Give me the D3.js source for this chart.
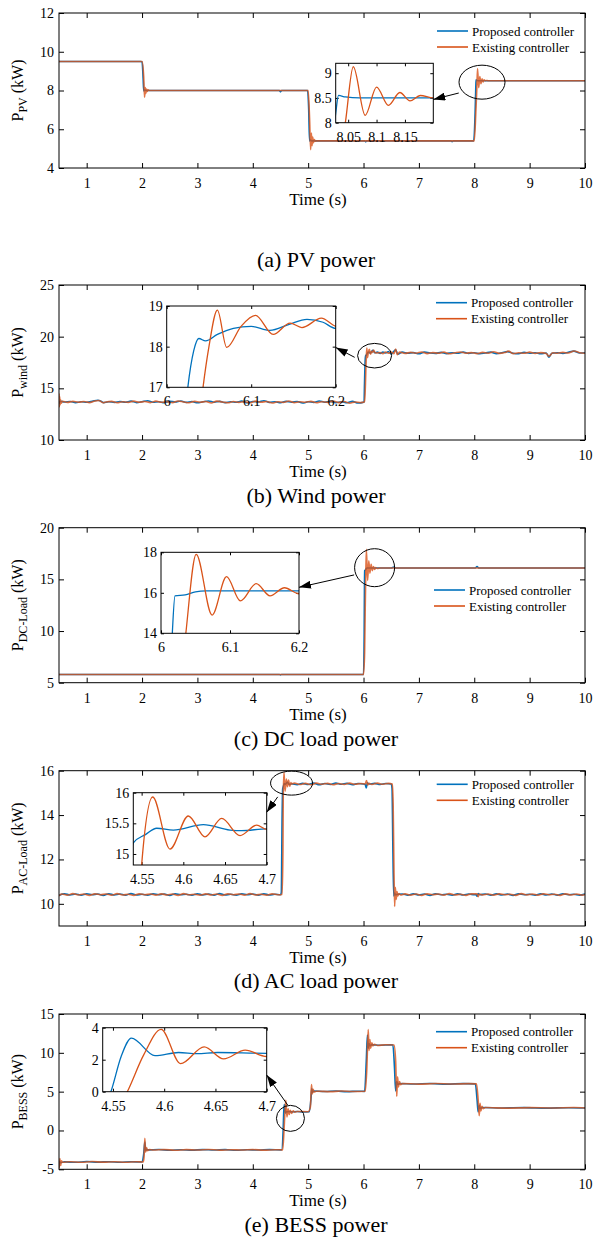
<!DOCTYPE html>
<html>
<head>
<meta charset="utf-8">
<script src="https://cdn.jsdelivr.net/npm/d3@7"></script>
<style>
body { margin: 0; background: #fff; }
svg text { font-family: "Liberation Serif", "Times New Roman", serif; fill: #000; }
</style>
</head>
<body>
<svg id="chart" width="597" height="1238"></svg>
<script>
// shared ticks
var timeTicks = [1, 2, 3, 4, 5, 6, 7, 8, 9, 10];
var seriesNames = ["Proposed controller", "Existing controller"];

//(a) PV power
var pvTicks = [4, 6, 8, 10, 12];
var pvInsetXTicks = [8.05, 8.1, 8.15];
var pvInsetYTicks = [8, 8.5, 9];
var pvProposed = [
  [0.5, 9.5], [1.98, 9.5], [2.0, 9.48], [2.02, 8.6], [2.03, 7.98], [2.05, 8.02], [2.08, 8.0],
  [4.48, 8.0], [4.5, 7.93], [4.52, 8.0], [4.99, 8.0], [5.01, 7.0], [5.025, 5.4], [5.04, 5.44],
  [5.07, 5.4], [6.02, 5.4], [6.04, 5.35], [6.06, 5.4], [7.58, 5.4], [7.6, 5.36], [7.62, 5.4],
  [7.99, 5.4], [8.015, 6.8], [8.028, 8.19], [8.033, 8.55], [8.045, 8.52], [8.07, 8.5], [10, 8.5]
];
var pvExisting = [
  [0.5, 9.5], [2.0, 9.5], [2.03, 8.7], [2.045, 7.65], [2.058, 8.15], [2.07, 7.85], [2.082, 8.08],
  [2.095, 7.95], [2.11, 8.03], [2.13, 8.0], [5.0, 8.0], [5.025, 6.6], [5.045, 4.95], [5.058, 5.8],
  [5.07, 5.15], [5.082, 5.6], [5.095, 5.3], [5.11, 5.47], [5.13, 5.38], [5.16, 5.4], [8.0, 5.4],
  [8.03, 7.0], [8.045, 8.0], [8.059, 9.13], [8.08, 8.15], [8.1, 8.72], [8.121, 8.35], [8.141, 8.61],
  [8.159, 8.44], [8.177, 8.55], [8.2, 8.5], [8.22, 8.52], [8.25, 8.5], [10, 8.5]
];

//(b) Wind power
var windTicks = [10, 15, 20, 25];
var windInsetXTicks = [6, 6.1, 6.2];
var windInsetYTicks = [17, 18, 19];
var windProposed = [
  [0.5, 13.5], [0.52, 13.75], [0.6, 13.68], [0.7, 13.72], [0.8, 13.62], [0.9, 13.7], [1.0, 13.66],
  [1.1, 13.74], [1.2, 13.85], [1.25, 13.78], [1.3, 13.62], [1.4, 13.7], [1.5, 13.64], [1.6, 13.72],
  [1.7, 13.66], [1.8, 13.76], [1.9, 13.62], [2.0, 13.7], [2.1, 13.8], [2.2, 13.66], [2.3, 13.7],
  [2.4, 13.6], [2.5, 13.74], [2.6, 13.68], [2.7, 13.78], [2.8, 13.64], [2.9, 13.72], [3.0, 13.6],
  [3.1, 13.7], [3.2, 13.78], [3.3, 13.66], [3.4, 13.74], [3.5, 13.62], [3.6, 13.7], [3.7, 13.66],
  [3.8, 13.76], [3.9, 13.6], [4.0, 13.72], [4.1, 13.68], [4.2, 13.8], [4.3, 13.64], [4.4, 13.7],
  [4.5, 13.6], [4.6, 13.74], [4.7, 13.66], [4.8, 13.72], [4.9, 13.58], [5.0, 13.7], [5.1, 13.64],
  [5.2, 13.78], [5.3, 13.66], [5.4, 13.72], [5.5, 13.62], [5.6, 13.7], [5.7, 13.6], [5.8, 13.74],
  [5.9, 13.58], [6.0, 13.66], [6.01, 13.7], [6.018, 15.5], [6.025, 17.0], [6.032, 17.9],
  [6.038, 18.2], [6.046, 18.14], [6.06, 18.3], [6.079, 18.45], [6.1, 18.5], [6.122, 18.4],
  [6.145, 18.55], [6.166, 18.67], [6.185, 18.6], [6.2, 18.45], [6.25, 18.5],
  [6.3, 18.38], [6.35, 18.5], [6.4, 18.42], [6.45, 18.55], [6.5, 18.32], [6.55, 18.6], [6.58, 18.72],
  [6.62, 18.3], [6.7, 18.5], [6.8, 18.4], [6.9, 18.46], [7.0, 18.35], [7.1, 18.5], [7.2, 18.42],
  [7.3, 18.38], [7.4, 18.48], [7.5, 18.36], [7.6, 18.45], [7.7, 18.4], [7.8, 18.5], [7.9, 18.38],
  [8.0, 18.45], [8.1, 18.35], [8.2, 18.42], [8.3, 18.5], [8.4, 18.36], [8.5, 18.44], [8.6, 18.55],
  [8.7, 18.4], [8.8, 18.35], [8.9, 18.48], [9.0, 18.4], [9.1, 18.45], [9.2, 18.35], [9.3, 18.42],
  [9.35, 18.02], [9.4, 18.4], [9.5, 18.45], [9.6, 18.38], [9.7, 18.5], [9.8, 18.6], [9.9, 18.42],
  [10.0, 18.45]
];
var windExisting = [
  [0.5, 14.5], [0.505, 13.2], [0.512, 14.2], [0.52, 13.4], [0.53, 13.9], [0.54, 13.55], [0.56, 13.75],
  [0.65, 13.64], [0.75, 13.74], [0.85, 13.66], [0.95, 13.72], [1.05, 13.62], [1.15, 13.78],
  [1.22, 13.82], [1.3, 13.6], [1.35, 13.68], [1.45, 13.74], [1.55, 13.6], [1.65, 13.7], [1.75, 13.64],
  [1.85, 13.76], [1.95, 13.66], [2.05, 13.72], [2.15, 13.62], [2.25, 13.76], [2.35, 13.66],
  [2.45, 13.7], [2.55, 13.62], [2.65, 13.78], [2.75, 13.68], [2.85, 13.6], [2.95, 13.74],
  [3.05, 13.66], [3.15, 13.72], [3.25, 13.58], [3.35, 13.76], [3.45, 13.68], [3.55, 13.6],
  [3.65, 13.72], [3.75, 13.64], [3.85, 13.7], [3.95, 13.6], [4.05, 13.76], [4.15, 13.66],
  [4.25, 13.72], [4.35, 13.58], [4.45, 13.7], [4.55, 13.64], [4.65, 13.78], [4.75, 13.62],
  [4.85, 13.7], [4.95, 13.66], [5.05, 13.74], [5.15, 13.6], [5.25, 13.7], [5.35, 13.64],
  [5.45, 13.76], [5.55, 13.62], [5.65, 13.72], [5.75, 13.56], [5.85, 13.68], [5.95, 13.62],
  [6.02, 13.7], [6.035, 15.5], [6.043, 17.0], [6.05, 18.0], [6.06, 18.9], [6.071, 17.98],
  [6.088, 18.5], [6.105, 18.77], [6.126, 18.3], [6.146, 18.58], [6.16, 18.47], [6.183, 18.7],
  [6.2, 18.5], [6.23, 18.42],
  [6.3, 18.46], [6.35, 18.36], [6.4, 18.52], [6.45, 18.4], [6.5, 18.5], [6.55, 18.35], [6.58, 18.8],
  [6.61, 18.25], [6.65, 18.5], [6.75, 18.38], [6.85, 18.48], [6.95, 18.4], [7.05, 18.52],
  [7.15, 18.36], [7.25, 18.46], [7.35, 18.4], [7.45, 18.5], [7.55, 18.34], [7.65, 18.44],
  [7.75, 18.52], [7.85, 18.4], [7.95, 18.46], [8.05, 18.36], [8.15, 18.48], [8.25, 18.4],
  [8.35, 18.54], [8.45, 18.38], [8.55, 18.46], [8.62, 18.6], [8.7, 18.36], [8.8, 18.44], [8.9, 18.4],
  [9.0, 18.5], [9.1, 18.38], [9.2, 18.46], [9.3, 18.36], [9.35, 18.1], [9.42, 18.45], [9.5, 18.4],
  [9.6, 18.48], [9.7, 18.42], [9.8, 18.62], [9.9, 18.45], [10.0, 18.4]
];

//(c) DC load power
var dcTicks = [5, 10, 15, 20];
var dcInsetXTicks = [6, 6.1, 6.2];
var dcInsetYTicks = [14, 16, 18];
var dcProposed = [
  [0.5, 5.8], [4.48, 5.8], [4.5, 5.75], [4.52, 5.8], [6.0, 5.8], [6.012, 10], [6.0164, 14],
  [6.0203, 15.85], [6.035, 15.9], [6.05, 16.05], [6.065, 16.1], [6.5, 16.1], [6.55, 16.2],
  [6.58, 16.1], [8.02, 16.1], [8.05, 16.25], [8.08, 16.1], [10, 16.1]
];
var dcExisting = [
  [0.5, 5.8], [6.0, 5.8], [6.02, 8], [6.03, 12], [6.036, 14], [6.051, 17.9], [6.074, 14.9],
  [6.095, 16.8], [6.115, 15.6], [6.138, 16.45], [6.158, 15.85], [6.179, 16.25], [6.2, 15.95],
  [6.22, 16.15], [6.25, 16.05], [6.3, 16.1], [10, 16.1]
];

//(d) AC load power
var acTicks = [10, 12, 14, 16];
var acInsetXTicks = [4.55, 4.6, 4.65, 4.7];
var acInsetYTicks = [15, 15.5, 16];
var acProposed = [
  [0.5, 10.38], [0.6, 10.45], [0.7, 10.4], [0.8, 10.44], [0.9, 10.39], [1.0, 10.45], [1.1, 10.41],
  [1.2, 10.44], [1.3, 10.38], [1.4, 10.45], [1.5, 10.4], [1.6, 10.44], [1.7, 10.39], [1.8, 10.46],
  [1.9, 10.4], [2.0, 10.43], [2.1, 10.39], [2.2, 10.45], [2.3, 10.41], [2.4, 10.44], [2.5, 10.38],
  [2.6, 10.45], [2.7, 10.41], [2.8, 10.43], [2.9, 10.39], [3.0, 10.45], [3.1, 10.4], [3.2, 10.44],
  [3.3, 10.39], [3.4, 10.46], [3.5, 10.4], [3.6, 10.43], [3.7, 10.39], [3.8, 10.45], [3.9, 10.41],
  [4.0, 10.44], [4.1, 10.39], [4.2, 10.45], [4.3, 10.4], [4.4, 10.43], [4.5, 10.41],
  [4.515, 10.5], [4.53, 14.0], [4.54, 15.18], [4.555, 15.32], [4.568, 15.42], [4.588, 15.39],
  [4.624, 15.48], [4.656, 15.39], [4.67, 15.38], [4.7, 15.41], [4.8, 15.37], [4.9, 15.43],
  [5.0, 15.38], [5.1, 15.44], [5.2, 15.37], [5.3, 15.42], [5.4, 15.38], [5.5, 15.44], [5.6, 15.39],
  [5.7, 15.43], [5.8, 15.37], [5.9, 15.42], [6.0, 15.4], [6.03, 15.38], [6.05, 15.22], [6.07, 15.45],
  [6.1, 15.4], [6.2, 15.43], [6.3, 15.38], [6.4, 15.42], [6.5, 15.4], [6.515, 15.2], [6.53, 12.5],
  [6.545, 10.35], [6.56, 10.48], [6.58, 10.4], [6.62, 10.43],
  [6.7, 10.44], [6.8, 10.39], [6.9, 10.45], [7.0, 10.4], [7.1, 10.44], [7.2, 10.38], [7.3, 10.45],
  [7.4, 10.41], [7.5, 10.43], [7.6, 10.39], [7.7, 10.45], [7.8, 10.4], [7.9, 10.44], [8.0, 10.41],
  [8.03, 10.42], [8.05, 10.34], [8.07, 10.46], [8.1, 10.41], [8.2, 10.44], [8.3, 10.39], [8.4, 10.45],
  [8.5, 10.4], [8.6, 10.44], [8.7, 10.38], [8.8, 10.45], [8.9, 10.41], [9.0, 10.43], [9.1, 10.39],
  [9.2, 10.45], [9.3, 10.4], [9.4, 10.44], [9.5, 10.39], [9.6, 10.45], [9.7, 10.41], [9.8, 10.43],
  [9.9, 10.39], [10.0, 10.44]
];
var acExisting = [
  [0.5, 10.36], [0.55, 10.44], [0.65, 10.39], [0.75, 10.46], [0.85, 10.4], [0.95, 10.44],
  [1.05, 10.38], [1.15, 10.45], [1.25, 10.41], [1.35, 10.44], [1.45, 10.39], [1.55, 10.46],
  [1.65, 10.4], [1.75, 10.43], [1.85, 10.38], [1.95, 10.45], [2.05, 10.41], [2.15, 10.44],
  [2.25, 10.39], [2.35, 10.45], [2.45, 10.4], [2.55, 10.44], [2.65, 10.38], [2.75, 10.46],
  [2.85, 10.41], [2.95, 10.43], [3.05, 10.39], [3.15, 10.45], [3.25, 10.4], [3.35, 10.44],
  [3.45, 10.38], [3.55, 10.45], [3.65, 10.41], [3.75, 10.44], [3.85, 10.39], [3.95, 10.46],
  [4.05, 10.4], [4.15, 10.43], [4.25, 10.39], [4.35, 10.45], [4.45, 10.41], [4.53, 10.42],
  [4.545, 12.5], [4.55, 14.82], [4.5633, 15.93], [4.584, 15.08], [4.606, 15.62], [4.626, 15.28],
  [4.646, 15.58], [4.668, 15.3], [4.688, 15.47], [4.7, 15.4], [4.75, 15.44], [4.85, 15.38],
  [4.95, 15.43], [5.05, 15.37], [5.15, 15.44], [5.25, 15.39], [5.35, 15.43], [5.45, 15.37],
  [5.55, 15.42], [5.65, 15.38], [5.75, 15.44], [5.85, 15.39], [5.95, 15.42], [6.03, 15.4],
  [6.055, 15.56], [6.075, 15.35], [6.1, 15.43], [6.15, 15.38], [6.25, 15.44], [6.35, 15.39],
  [6.45, 15.43], [6.52, 15.4], [6.535, 14.5], [6.55, 11.5], [6.562, 9.88], [6.575, 10.75],
  [6.59, 10.2], [6.605, 10.55], [6.62, 10.35], [6.64, 10.46], [6.67, 10.4],
  [6.75, 10.45], [6.85, 10.39], [6.95, 10.44], [7.05, 10.38], [7.15, 10.45], [7.25, 10.41],
  [7.35, 10.44], [7.45, 10.39], [7.55, 10.46], [7.65, 10.4], [7.75, 10.43], [7.85, 10.38],
  [7.95, 10.45], [8.05, 10.45], [8.07, 10.32], [8.09, 10.44], [8.15, 10.4], [8.25, 10.44],
  [8.35, 10.39], [8.45, 10.45], [8.55, 10.41], [8.65, 10.43], [8.75, 10.38], [8.85, 10.46],
  [8.95, 10.4], [9.05, 10.44], [9.15, 10.39], [9.25, 10.45], [9.35, 10.41], [9.45, 10.43],
  [9.55, 10.38], [9.65, 10.45], [9.75, 10.4], [9.85, 10.44], [9.95, 10.39], [10.0, 10.42]
];

//(e) BESS power
var bessTicks = [-5, 0, 5, 10, 15];
var bessInsetXTicks = [4.55, 4.6, 4.65, 4.7];
var bessInsetYTicks = [0, 2, 4];
var bessProposed = [
  [0.5, -4.8], [0.51, -4.0], [0.53, -4.15], [0.6, -4.05], [0.8, -4.1], [1.0, -4.0], [1.2, -4.08],
  [1.4, -4.02], [1.6, -4.1], [1.8, -4.03], [2.0, -4.06], [2.03, -3.0], [2.05, -1.5], [2.065, -2.6],
  [2.08, -2.4], [2.1, -2.5], [2.3, -2.45], [2.5, -2.55], [2.7, -2.48], [2.9, -2.53], [3.1, -2.46],
  [3.3, -2.52], [3.5, -2.47], [3.7, -2.54], [3.9, -2.48], [4.1, -2.52], [4.3, -2.46], [4.52, -2.5],
  [4.548, 0], [4.558, 2.2], [4.568, 3.35], [4.591, 2.25], [4.614, 2.45], [4.632, 2.38],
  [4.652, 2.45], [4.7, 2.4], [4.8, 2.44], [4.9, 2.38], [5.02, 2.42], [5.05, 4.0], [5.065, 5.4],
  [5.08, 4.9], [5.1, 5.08], [5.3, 5.02], [5.5, 5.08], [5.7, 5.0], [5.9, 5.06], [6.02, 5.04],
  [6.05, 9], [6.07, 12.3], [6.085, 10.6], [6.1, 11.2], [6.12, 10.9], [6.15, 11.05], [6.3, 10.98],
  [6.5, 11.02], [6.53, 11.0], [6.56, 8.0], [6.58, 5.1], [6.6, 6.3], [6.62, 5.9], [6.65, 6.05],
  [6.9, 5.98], [7.2, 6.04], [7.5, 5.97], [7.8, 6.03], [8.02, 6.0], [8.05, 4.0], [8.07, 2.4],
  [8.09, 3.2], [8.11, 2.8], [8.14, 2.95], [8.5, 2.9], [8.9, 2.94], [9.3, 2.88], [9.7, 2.93], [10, 2.9]
];
var bessExisting = [
  [0.5, -4.9], [0.515, -3.6], [0.53, -4.5], [0.545, -3.9], [0.56, -4.1], [0.7, -4.02], [0.9, -4.1],
  [1.1, -4.0], [1.3, -4.08], [1.5, -4.03], [1.7, -4.1], [1.9, -4.02], [2.02, -4.06], [2.035, -3.5],
  [2.05, -1.0], [2.065, -2.8], [2.08, -2.2], [2.1, -2.6], [2.13, -2.45], [2.2, -2.52], [2.4, -2.46],
  [2.6, -2.54], [2.8, -2.47], [3.0, -2.52], [3.2, -2.45], [3.4, -2.53], [3.6, -2.48], [3.8, -2.52],
  [4.0, -2.46], [4.2, -2.53], [4.4, -2.48], [4.54, -2.5], [4.564, 0], [4.58, 2.3], [4.597, 3.9],
  [4.616, 1.75], [4.639, 2.8], [4.658, 2.05], [4.679, 2.6], [4.7, 2.2], [4.73, 2.52], [4.76, 2.35],
  [4.8, 2.45], [5.0, 2.42], [5.04, 3.0], [5.06, 5.9], [5.075, 4.7], [5.09, 5.3], [5.11, 4.95],
  [5.15, 5.06], [5.4, 5.0], [5.6, 5.08], [5.8, 5.02], [6.03, 5.05], [6.06, 8], [6.085, 13.0],
  [6.1, 10.3], [6.115, 11.7], [6.13, 10.6], [6.15, 11.3], [6.17, 10.9], [6.2, 11.1], [6.25, 10.95],
  [6.4, 11.04], [6.55, 11.0], [6.58, 9.0], [6.6, 4.4], [6.615, 6.9], [6.63, 5.6], [6.65, 6.3],
  [6.67, 5.9], [6.7, 6.05], [7.0, 5.97], [7.3, 6.04], [7.6, 5.98], [7.9, 6.03], [8.04, 6.0],
  [8.07, 4.0], [8.09, 1.9], [8.105, 3.5], [8.12, 2.5], [8.14, 3.1], [8.16, 2.8], [8.2, 2.95],
  [8.6, 2.88], [9.0, 2.94], [9.4, 2.9], [9.8, 2.95], [10, 2.9]
];

var blue = "#0072BD";
var orange = "#D95319";
var serif = "Liberation Serif, Times New Roman, serif";
var plotLeft = 59, plotRight = 585;

var panels = [
  {id: "a", top: 13, bottom: 168, yDomain: [4, 12], yTicks: pvTicks, sub: "PV",
   caption: "(a) PV power", captionGap: 99, proposed: pvProposed, existing: pvExisting,
   legend: [437, 31],
   inset: {x0: 335.7, x1: 433.3, y0: 63.3, y1: 122.7, xDomain: [8.028, 8.2], yDomain: [8, 9.2],
           xTicks: pvInsetXTicks, yTicks: pvInsetYTicks},
   ellipse: {cx: 8.14, cy: 8.43, rx: 23, ry: 17}, arrow: {from: [7.72, 7.87], to: [8.2, 8.47]}},
  {id: "b", top: 285, bottom: 440, yDomain: [10, 25], yTicks: windTicks, sub: "wind",
   caption: "(b) Wind power", captionGap: 63, proposed: windProposed, existing: windExisting,
   legend: [436, 302.7],
   inset: {x0: 166.7, x1: 335.7, y0: 306, y1: 387.3, xDomain: [6, 6.2], yDomain: [17, 19],
           xTicks: windInsetXTicks, yTicks: windInsetYTicks},
   ellipse: {cx: 6.2, cy: 18.16, rx: 17, ry: 12.3}, arrow: {from: [5.84, 18.0], to: [6.2, 17.98]}},
  {id: "c", top: 527.7, bottom: 682.7, yDomain: [5, 20], yTicks: dcTicks, sub: "DC-Load",
   caption: "(c) DC load power", captionGap: 63, proposed: dcProposed, existing: dcExisting,
   legend: [434, 590],
   inset: {x0: 161, x1: 299, y0: 552.3, y1: 633.3, xDomain: [6, 6.2], yDomain: [14, 18],
           xTicks: dcInsetXTicks, yTicks: dcInsetYTicks},
   ellipse: {cx: 6.2, cy: 16.13, rx: 20, ry: 19}, arrow: {from: [5.83, 15.43], to: [6.2, 16.27]}},
  {id: "d", top: 770.7, bottom: 926, yDomain: [9, 16], yTicks: acTicks, sub: "AC-Load",
   caption: "(d) AC load power", captionGap: 62, proposed: acProposed, existing: acExisting,
   legend: [436.7, 784.3],
   inset: {x0: 133.3, x1: 266.7, y0: 792.7, y1: 865, xDomain: [4.54, 4.7], yDomain: [14.82, 16],
           xTicks: acInsetXTicks, yTicks: acInsetYTicks},
   ellipse: {cx: 4.7, cy: 15.44, rx: 21, ry: 12}, arrow: {from: [4.45, 14.82], to: [4.7, 15.68]}},
  {id: "e", top: 1014, bottom: 1169.3, yDomain: [-5, 15], yTicks: bessTicks, sub: "BESS",
   caption: "(e) BESS power", captionGap: 63, proposed: bessProposed, existing: bessExisting,
   legend: [436, 1031.7],
   inset: {x0: 102.7, x1: 266.7, y0: 1027.7, y1: 1091.7, xDomain: [4.54, 4.7], yDomain: [0, 4],
           xTicks: bessInsetXTicks, yTicks: bessInsetYTicks},
   ellipse: {cx: 4.68, cy: 1.56, rx: 14, ry: 13}, arrow: {from: [4.63, 3.28], to: [4.7, 1.04]}}
];

var svg = d3.select("#chart");
var defs = svg.append("defs");

defs.append("marker")
  .attr("id", "arrowhead")
  .attr("viewBox", "0 0 10 10")
  .attr("refX", 10)
  .attr("refY", 5)
  .attr("markerWidth", 12)
  .attr("markerHeight", 8)
  .attr("markerUnits", "userSpaceOnUse")
  .attr("preserveAspectRatio", "none")
  .attr("orient", "auto")
  .append("path")
  .attr("d", "M0,0L10,5L0,10z")
  .attr("fill", "#000");

var fmt = function(d) { return d + ""; };

function styleAxis(g, size) {
  g.attr("font-size", size).attr("font-family", serif);
  g.select(".domain").remove();
  g.selectAll(".tick line").attr("stroke", "#000");
}

function drawLines(g, x, y, p, width, fade) {
  var lineGen = d3.line()
    .curve(d3.curveMonotoneX)
    .x(function(d) { return x(d[0]); })
    .y(function(d) { return y(d[1]); });

  g.append("path")
    .attr("d", lineGen(p.proposed))
    .attr("fill", "none")
    .attr("stroke", blue)
    .attr("stroke-width", width);

  g.append("path")
    .attr("d", lineGen(p.existing))
    .attr("fill", "none")
    .attr("stroke", orange)
    .attr("stroke-opacity", fade)
    .attr("stroke-width", width);
}

function drawPanel(p) {
  var x = d3.scaleLinear().domain([0.5, 10]).range([plotLeft, plotRight]);
  var y = d3.scaleLinear().domain(p.yDomain).range([p.bottom, p.top]);
  var g = svg.append("g").attr("class", "panel-" + p.id).attr("font-family", serif);
  var h = p.bottom - p.top;

  defs.append("clipPath").attr("id", "clip-" + p.id)
    .append("rect")
    .attr("x", plotLeft).attr("y", p.top)
    .attr("width", plotRight - plotLeft).attr("height", h);

  //axes with inward ticks
  g.append("g").attr("transform", "translate(0," + p.bottom + ")")
    .call(d3.axisBottom(x).tickValues(timeTicks).tickSizeInner(-5).tickSizeOuter(0).tickPadding(10).tickFormat(fmt))
    .call(styleAxis, 14);
  g.append("g").attr("transform", "translate(0," + p.top + ")")
    .call(d3.axisTop(x).tickValues(timeTicks).tickSizeInner(-5).tickSizeOuter(0).tickFormat(""))
    .call(styleAxis, 14);
  g.append("g").attr("transform", "translate(" + plotLeft + ",0)")
    .call(d3.axisLeft(y).tickValues(p.yTicks).tickSizeInner(-5).tickSizeOuter(0).tickPadding(5).tickFormat(fmt))
    .call(styleAxis, 14);
  g.append("g").attr("transform", "translate(" + plotRight + ",0)")
    .call(d3.axisRight(y).tickValues(p.yTicks).tickSizeInner(-5).tickSizeOuter(0).tickFormat(""))
    .call(styleAxis, 14);

  var lines = g.append("g").attr("clip-path", "url(#clip-" + p.id + ")");
  drawLines(lines, x, y, p, 1.6, 0.8);

  g.append("rect")
    .attr("x", plotLeft).attr("y", p.top)
    .attr("width", plotRight - plotLeft).attr("height", h)
    .attr("fill", "none").attr("stroke", "#000").attr("stroke-width", 1);

  //y label with subscript
  var ylab = g.append("text")
    .attr("transform", "translate(23," + (p.top + h / 2) + ") rotate(-90)")
    .attr("text-anchor", "middle")
    .attr("font-size", 16);
  ylab.append("tspan").text("P");
  ylab.append("tspan").attr("dy", 4).attr("font-size", 12).text(p.sub);
  ylab.append("tspan").attr("dy", -4).text(" (kW)");

  g.append("text")
    .attr("x", 318).attr("y", p.bottom + 37)
    .attr("text-anchor", "middle")
    .attr("font-size", 17)
    .text("Time (s)");

  g.append("text")
    .attr("x", 316).attr("y", p.bottom + p.captionGap)
    .attr("text-anchor", "middle")
    .attr("font-size", 22)
    .text(p.caption);

  //legend
  var leg = g.append("g").attr("transform", "translate(" + p.legend[0] + "," + p.legend[1] + ")");
  [blue, orange].forEach(function(c, i) {
    leg.append("line")
      .attr("x1", 0).attr("x2", 31)
      .attr("y1", i * 16).attr("y2", i * 16)
      .attr("stroke", c).attr("stroke-width", 1.6);
    leg.append("text")
      .attr("x", 35).attr("y", i * 16)
      .attr("dy", "0.35em")
      .attr("font-size", 13)
      .text(seriesNames[i]);
  });

  //zoom inset
  var ins = p.inset;
  var ix = d3.scaleLinear().domain(ins.xDomain).range([ins.x0, ins.x1]);
  var iy = d3.scaleLinear().domain(ins.yDomain).range([ins.y1, ins.y0]);
  var ig = g.append("g").attr("class", "inset");

  defs.append("clipPath").attr("id", "iclip-" + p.id)
    .append("rect")
    .attr("x", ins.x0).attr("y", ins.y0)
    .attr("width", ins.x1 - ins.x0).attr("height", ins.y1 - ins.y0);

  ig.append("rect")
    .attr("x", ins.x0).attr("y", ins.y0)
    .attr("width", ins.x1 - ins.x0).attr("height", ins.y1 - ins.y0)
    .attr("fill", "#fff");

  ig.append("g").attr("transform", "translate(0," + ins.y1 + ")")
    .call(d3.axisBottom(ix).tickValues(ins.xTicks).tickSizeInner(-3).tickSizeOuter(0).tickPadding(9).tickFormat(fmt))
    .call(styleAxis, 14);
  ig.append("g").attr("transform", "translate(0," + ins.y0 + ")")
    .call(d3.axisTop(ix).tickValues(ins.xTicks).tickSizeInner(-3).tickSizeOuter(0).tickFormat(""))
    .call(styleAxis, 14);
  ig.append("g").attr("transform", "translate(" + ins.x0 + ",0)")
    .call(d3.axisLeft(iy).tickValues(ins.yTicks).tickSizeInner(-3).tickSizeOuter(0).tickPadding(4).tickFormat(fmt))
    .call(styleAxis, 14);
  ig.append("g").attr("transform", "translate(" + ins.x1 + ",0)")
    .call(d3.axisRight(iy).tickValues(ins.yTicks).tickSizeInner(-3).tickSizeOuter(0).tickFormat(""))
    .call(styleAxis, 14);

  var ilines = ig.append("g").attr("clip-path", "url(#iclip-" + p.id + ")");
  drawLines(ilines, ix, iy, p, 1.3, 1);

  ig.append("rect")
    .attr("x", ins.x0).attr("y", ins.y0)
    .attr("width", ins.x1 - ins.x0).attr("height", ins.y1 - ins.y0)
    .attr("fill", "none").attr("stroke", "#000").attr("stroke-width", 1);

  //ellipse + arrow
  g.append("ellipse")
    .attr("cx", x(p.ellipse.cx)).attr("cy", y(p.ellipse.cy))
    .attr("rx", p.ellipse.rx).attr("ry", p.ellipse.ry)
    .attr("fill", "none").attr("stroke", "#000").attr("stroke-width", 1);

  g.append("line")
    .attr("x1", x(p.arrow.from[0])).attr("y1", y(p.arrow.from[1]))
    .attr("x2", ix(p.arrow.to[0])).attr("y2", iy(p.arrow.to[1]))
    .attr("stroke", "#000").attr("stroke-width", 1)
    .attr("marker-end", "url(#arrowhead)");
}

panels.forEach(drawPanel);
</script>
</body>
</html>
